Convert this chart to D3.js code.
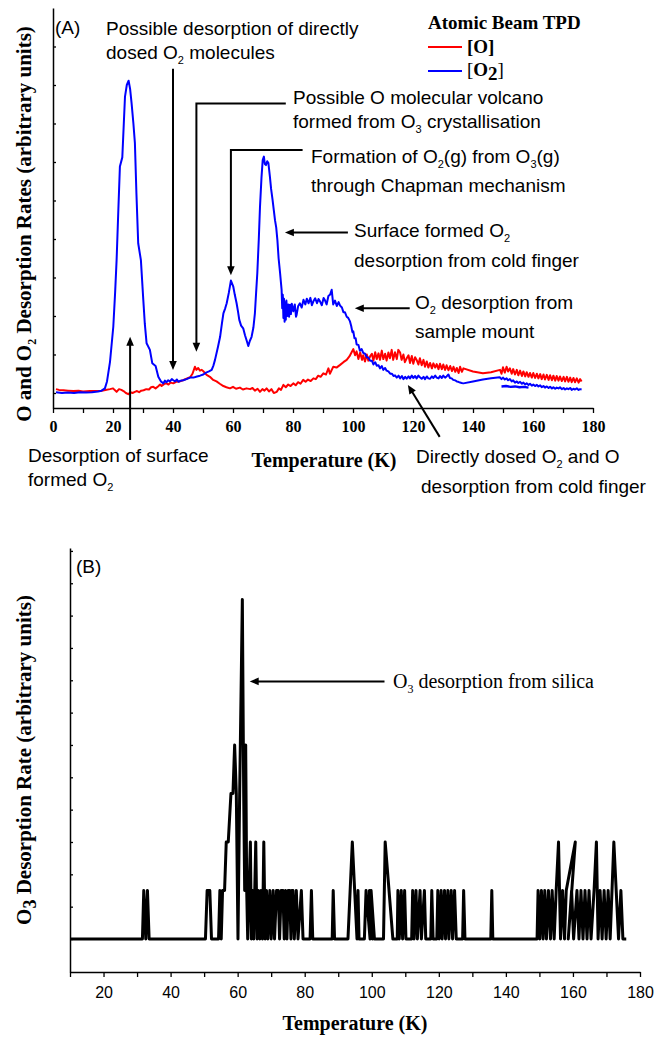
<!DOCTYPE html>
<html><head><meta charset="utf-8">
<script src="https://cdn.jsdelivr.net/npm/d3@7"></script>
<style>body{margin:0;background:#fff}svg{display:block}</style>
</head><body><svg id="c" width="666" height="1038"></svg>
<script>
// ---------- DATA ----------
// Panel A: [Temperature K, O2 desorption (arb.)]
const o2Scan = [[1,0.02],[3,0.0],[5,0.01],[7,0.0],[9,0.02],[11,0.01],[13,0.02],[15,0.04],[16.2,0.06],[17.3,0.12],[18,0.3],[19,0.81],[20.1,1.72],[20.7,2.6],[21.2,3.45],[21.8,4.8],[22.3,5.88],[23.1,6.12],[23.6,7.0],[24,7.7],[24.6,8.0],[25.2,8.11],[25.7,7.9],[26.2,7.52],[26.8,7.0],[27.3,6.49],[27.8,5.2],[28.4,3.89],[29.3,3.45],[30.1,2.42],[30.6,1.8],[31.2,1.29],[32.3,1.12],[33.1,0.77],[34.2,0.70],[35.1,0.42],[36,0.30],[36.8,0.25],[37.3,0.32],[37.8,0.28],[38.4,0.33],[39,0.30],[39.6,0.36],[40.1,0.33],[40.7,0.30],[41.3,0.35],[41.8,0.29],[42.5,0.32],[43.4,0.33],[44.5,0.36],[45.7,0.40],[46.8,0.40],[48,0.43],[49,0.45],[50.1,0.48],[51,0.53],[52,0.56],[52.9,0.6],[53.5,0.72],[54,0.86],[55,1.2],[55.7,1.46],[56.3,1.8],[56.8,2.07],[57.4,2.2],[57.9,2.33],[58.6,2.6],[59.3,2.92],[60.1,2.76],[60.6,2.55],[61.2,2.33],[61.7,2.1],[62.1,1.9],[62.7,1.75],[63.4,1.68],[64,1.5],[64.6,1.35],[65.1,1.22],[65.6,1.35],[66.2,1.46],[66.8,1.7],[67.3,2.07],[67.7,2.6],[68.1,3.11],[68.6,4.0],[69,4.84],[69.5,5.6],[69.9,6.05],[70.3,6.14],[70.6,5.95],[71,5.92],[71.4,6.02],[71.8,5.97],[72.3,5.62],[72.7,5.3],[73.2,5.01],[73.6,4.75],[74,4.49],[74.4,4.3],[74.8,3.97],[75.2,3.5],[75.7,3.11],[76.2,2.68],[76.4,2.2],[76.6,2.55],[76.8,1.95],[77.0,2.45],[77.2,1.85],[77.4,2.35],[77.6,1.9],[77.8,2.4],[78.1,2.0],[78.4,2.3],[78.7,1.98],[79,2.29],[79.3,2.05],[79.6,2.32],[80.1,2.12],[80.6,2.3],[81.0,1.98],[81.2,2.03],[81.7,2.25],[82.3,2.33],[82.9,2.22],[83.5,2.42],[84.1,2.3],[84.6,2.45],[85.2,2.33],[85.8,2.47],[86.3,2.28],[86.8,2.38],[87.4,2.46],[88,2.33],[88.5,2.44],[89,2.38],[89.6,2.28],[90.2,2.47],[90.7,2.4],[91.2,2.3],[91.8,2.52],[92.4,2.56],[92.9,2.68],[93.4,2.3],[94,2.4],[94.6,2.26],[95.2,2.36],[95.7,2.27],[96.3,2.22],[96.8,2.1],[97.3,2.1],[97.9,1.98],[98.4,1.95],[99,1.86],[99.4,1.74],[99.8,1.58],[100.1,1.6],[100.5,1.42],[100.9,1.42],[101.2,1.26],[101.8,1.25],[102.3,1.1],[102.9,1.14],[103.4,1.04],[104,1.02],[104.6,0.93],[105.1,0.92],[105.7,0.84],[106.3,0.84],[106.8,0.74],[107.4,0.8],[107.9,0.71],[108.5,0.72],[109,0.64],[109.6,0.7],[110.1,0.6],[110.7,0.65],[111.2,0.58],[111.8,0.56],[112.4,0.5],[113,0.5],[113.5,0.44],[114,0.46],[114.6,0.4],[115.2,0.45],[115.7,0.38],[116.3,0.44],[116.8,0.36],[117.4,0.42],[117.9,0.37],[118.5,0.43],[119,0.38],[119.6,0.45],[120.1,0.39],[120.7,0.44],[121.2,0.38],[121.8,0.45],[122.3,0.41],[122.9,0.37],[123.5,0.42],[124,0.36],[124.6,0.43],[125.1,0.38],[125.7,0.37],[126.3,0.43],[126.8,0.39],[127.4,0.45],[127.9,0.4],[128.5,0.38],[129,0.44],[129.6,0.39],[130.1,0.45],[130.7,0.4],[131.2,0.43],[131.8,0.48],[132.3,0.39],[132.9,0.38],[133.4,0.34],[134,0.33],[134.6,0.30],[135.1,0.29],[135.7,0.27],[136.2,0.26],[136.8,0.25],[140,0.30],[143.3,0.35],[146,0.38],[148.9,0.41],[149.5,0.36],[150,0.40],[150.6,0.35],[151.2,0.38],[151.7,0.33],[152.3,0.36],[152.9,0.30],[153.4,0.33],[154,0.27],[154.6,0.30],[155.1,0.26],[155.7,0.29],[156.3,0.24],[156.8,0.27],[157.4,0.22],[157.9,0.25],[158.5,0.21],[159,0.24],[159.6,0.19],[160.1,0.22],[160.7,0.18],[161.3,0.21],[161.8,0.17],[162.4,0.20],[162.9,0.15],[163.5,0.18],[164,0.14],[164.6,0.17],[165.2,0.13],[165.7,0.16],[166.3,0.12],[166.8,0.15],[167.4,0.11],[167.9,0.14],[168.5,0.12],[169,0.15],[169.6,0.10],[170.2,0.13],[170.7,0.09],[171.3,0.12],[171.8,0.10],[172.4,0.13],[172.9,0.08],[173.5,0.11],[174,0.09],[174.6,0.12],[175.2,0.08],[175.7,0.1],[176.2,0.09]];
const o2ScanRepeat = [[149.5,0.17],[151,0.18],[152.5,0.16],[154,0.17],[155.5,0.15],[157,0.16],[158.5,0.14]];
// Panel A: [Temperature K, O desorption (arb.)]
const oScan = [[1,0.1],[2,0.08],[3.5,0.07],[5,0.06],[6.8,0.05],[8.5,0.06],[10,0.04],[12.3,0.05],[14,0.05],[16.2,0.06],[17.5,0.08],[19,0.1],[20,0.12],[21.2,0.03],[22,0.1],[22.8,0.08],[23.5,0.05],[24.3,0.0],[25.1,-0.03],[25.8,0.02],[26.5,0.0],[27.3,0.03],[28,0.05],[28.7,0.02],[29.4,0.06],[30.2,0.07],[31.1,0.1],[32,0.09],[32.7,0.15],[33.4,0.16],[34.2,0.12],[35,0.17],[35.7,0.22],[36.2,0.18],[37,0.23],[37.8,0.25],[38.5,0.22],[39.2,0.27],[40.1,0.25],[41,0.29],[42.3,0.3],[43.3,0.33],[44.5,0.37],[45.7,0.41],[46.5,0.5],[47.3,0.68],[47.8,0.6],[48.4,0.65],[49,0.58],[49.6,0.6],[50.3,0.55],[51.2,0.47],[52.3,0.42],[53.4,0.34],[54.5,0.3],[55.6,0.24],[56.8,0.18],[57.8,0.15],[59,0.12],[60,0.16],[61,0.11],[62.3,0.14],[63.3,0.09],[64.5,0.12],[65.7,0.1],[66.5,0.13],[67.3,0.06],[68.2,0.11],[69,0.03],[69.8,0.1],[70.5,0.06],[71.2,0.12],[72,0.04],[72.8,0.1],[73.6,0.0],[74.6,0.03],[75.3,0.12],[76,0.08],[76.8,0.21],[77.6,0.15],[78.4,0.22],[79.2,0.18],[80.1,0.25],[80.9,0.2],[81.7,0.28],[82.5,0.24],[83.4,0.34],[84.2,0.29],[85,0.35],[85.9,0.31],[86.8,0.38],[87.6,0.36],[88.4,0.45],[89.2,0.42],[90.1,0.51],[91,0.48],[91.8,0.64],[92.3,0.5],[93.4,0.68],[94.5,0.66],[95.7,0.73],[96.8,0.8],[97.9,0.86],[98.8,0.95],[99.5,1.05],[100.1,1.14],[100.7,0.98],[101.2,1.08],[101.8,0.88],[102.4,1.05],[103,0.86],[103.4,0.98],[104,0.82],[104.6,1.0],[105.1,0.84],[105.7,0.95],[106.3,1.02],[106.8,0.84],[107.4,1.06],[107.9,0.88],[108.5,1.03],[109,0.86],[109.6,1.1],[110.1,0.88],[110.7,1.02],[111.2,0.84],[111.8,1.05],[112.3,0.9],[112.9,1.12],[113.4,0.86],[114,1.06],[114.6,0.88],[115.1,1.12],[115.7,1.05],[116.2,0.86],[116.8,1.0],[117.3,0.8],[117.9,0.9],[118.5,0.98],[119,0.78],[119.6,0.96],[120.1,0.76],[120.7,0.93],[121.2,0.86],[121.8,0.74],[122.3,0.9],[122.9,0.72],[123.5,0.86],[124,0.68],[124.6,0.82],[125.1,0.66],[125.7,0.78],[126.3,0.64],[126.8,0.77],[127.4,0.66],[127.9,0.75],[128.5,0.62],[129,0.76],[129.6,0.62],[130.1,0.74],[130.7,0.6],[131.2,0.72],[131.8,0.59],[132.4,0.7],[133,0.57],[133.5,0.68],[134.1,0.55],[134.6,0.65],[135.2,0.52],[135.7,0.68],[136.3,0.55],[136.8,0.64],[140,0.56],[143.3,0.51],[146,0.54],[149,0.6],[149.5,0.5],[150,0.67],[150.6,0.53],[151.2,0.68],[151.7,0.56],[152.3,0.64],[152.9,0.5],[153.4,0.62],[154,0.48],[154.6,0.6],[155.1,0.46],[155.7,0.58],[156.3,0.44],[156.8,0.56],[157.4,0.43],[157.9,0.54],[158.5,0.42],[159,0.52],[159.6,0.4],[160.1,0.52],[160.7,0.39],[161.3,0.5],[161.8,0.38],[162.4,0.49],[162.9,0.36],[163.5,0.48],[164,0.35],[164.6,0.47],[165.2,0.34],[165.7,0.46],[166.3,0.33],[166.8,0.45],[167.4,0.32],[167.9,0.44],[168.5,0.32],[169,0.43],[169.6,0.31],[170.2,0.42],[170.7,0.3],[171.3,0.42],[171.8,0.29],[172.4,0.4],[172.9,0.28],[173.5,0.39],[174,0.28],[174.6,0.38],[175.2,0.27],[175.7,0.36],[176.2,0.3]];
// Panel B: [Temperature K, O3 counts]
const o3Scan = [[10,0],[31.6,0],[32.0,1],[32.6,0],[33.1,1],[33.6,0],[50.4,0],[50.9,1],[51.7,1],[52.2,0],[54.3,0],[54.7,1],[55.1,0],[55.5,1],[56.1,1],[56.6,2],[57.2,2],[58.0,3],[58.6,3],[59.1,4],[59.6,3],[60.1,0],[60.6,3],[61.0,5],[61.4,7],[61.8,3],[62.1,1],[62.4,4],[62.7,1],[63.0,0],[63.4,1],[63.8,2],[64.1,0],[64.5,1],[64.8,0],[65.4,2],[65.8,0],[66.2,1],[66.6,0],[67.0,1],[67.4,0],[67.8,2],[68.2,0],[68.6,1],[69.0,0],[69.6,1],[70.0,0],[70.6,1],[71.0,0],[71.6,1],[72.1,1],[72.5,0],[73.0,1],[73.5,1],[73.9,0],[74.3,1],[74.7,0],[75.1,1],[75.5,1],[75.9,0],[76.2,1],[76.5,1],[76.9,0],[77.5,1],[78.0,0],[79.0,1],[79.5,0],[81.6,0],[82.0,1],[82.4,0],[88.2,0],[88.5,1],[88.9,0],[92.9,0],[94.2,2],[95.6,0],[95.9,1],[96.2,0],[97.8,0],[98.3,1],[99.5,0],[99.3,1],[100.2,0],[99.8,1],[100.8,0],[103.5,0],[104.0,2],[106.3,0],[107.6,0],[107.8,1],[108.2,0],[108.8,1],[109.2,0],[109.8,1],[110.2,0],[111.9,0],[112.2,1],[112.6,0],[113.2,1],[113.6,0],[114.4,1],[114.8,0],[115.7,1],[116.1,0],[117.6,0],[117.9,1],[118.3,0],[119.4,0],[119.7,1],[120.1,0],[120.7,1],[121.0,0],[121.7,1],[122.0,0],[122.7,1],[123.0,0],[123.7,1],[124.1,0],[124.7,1],[125.2,0],[127.1,0],[127.4,1],[127.8,0],[135.5,0],[135.8,1],[136.1,0],[149.3,0],[149.6,1],[150.1,0],[150.6,1],[151.1,0],[151.6,1],[152.1,0],[152.7,1],[153.3,0],[153.8,1],[154.4,0],[155.0,1],[155.7,2],[156.3,0],[156.9,1],[157.5,0],[158.0,1],[160.7,2],[158.6,0],[159.6,1],[160.2,0],[161.2,1],[161.8,0],[162.4,1],[163.0,0],[163.6,1],[164.2,0],[164.8,1],[165.4,0],[166.3,1],[167.0,2],[167.5,0],[168.1,1],[168.7,0],[169.3,1],[169.9,0],[170.5,1],[171.1,0],[172.2,2],[173.6,0],[174.3,1],[174.9,0],[175.9,0]];

const xTicksA = [0,10,20,30,40,50,60,70,80,90,100,110,120,130,140,150,160,170,180];
const xTicksB = [10,20,30,40,50,60,70,80,90,100,110,120,130,140,150,160,170,180];
const labelEveryA = 20, labelEveryB = 20;

// ---------- DRAW ----------
const svg = d3.select("#c");
const SANS = "'Liberation Sans', Arial, sans-serif";
const SERIF = "'Liberation Serif', 'Times New Roman', serif";

const xA = d3.scaleLinear().domain([0,180]).range([53,593]);
const yA = d3.scaleLinear().domain([-0.39,10]).range([408,8]);
const xB = d3.scaleLinear().domain([10,180]).range([70,640]);
const yB = d3.scaleLinear().domain([-0.68,8.06]).range([972,548]);

function styleAxis(g, font, size, weight){
  g.select(".domain").attr("stroke","#000").attr("stroke-width",1.5);
  g.selectAll(".tick line").attr("stroke","#000").attr("stroke-width",1.3);
  g.selectAll(".tick text").attr("fill","#000").style("font-family",font).style("font-size",size+"px").style("font-weight",weight);
}

// Panel A axes
const gxA = svg.append("g").attr("transform","translate(0,408)")
  .call(d3.axisBottom(xA).tickValues(xTicksA).tickSize(5).tickSizeOuter(0).tickPadding(8)
    .tickFormat(d => d % labelEveryA === 0 ? d : ""));
styleAxis(gxA, SERIF, 16, "bold");
const gyA = svg.append("g").attr("transform","translate(53,0)")
  .call(d3.axisLeft(yA).tickValues(d3.range(0,10,1)).tickSize(-3).tickSizeOuter(0).tickFormat(""));
styleAxis(gyA, SERIF, 16, "bold");

// Panel B axes
const gxB = svg.append("g").attr("transform","translate(0,972)")
  .call(d3.axisBottom(xB).tickValues(xTicksB).tickSize(5).tickSizeOuter(0).tickPadding(10)
    .tickFormat(d => d % labelEveryB === 0 ? d : ""));
styleAxis(gxB, SANS, 16, "normal");
const gyB = svg.append("g").attr("transform","translate(70,0)")
  .call(d3.axisLeft(yB).tickValues(d3.range(0,13).map(k => k*2/3)).tickSize(-3).tickSizeOuter(0).tickFormat(""));
styleAxis(gyB, SANS, 16, "normal");

// Lines
const lineA = d3.line().x(d => xA(d[0])).y(d => yA(d[1]));
const lineB = d3.line().x(d => xB(d[0])).y(d => yB(d[1]));
svg.append("path").datum(oScan).attr("d",lineA).attr("fill","none").attr("stroke","#ff0000").attr("stroke-width",2).attr("stroke-linejoin","round");
svg.append("path").datum(o2Scan).attr("d",lineA).attr("fill","none").attr("stroke","#0000ff").attr("stroke-width",2).attr("stroke-linejoin","round");
svg.append("path").datum(o2ScanRepeat).attr("d",lineA).attr("fill","none").attr("stroke","#0000ff").attr("stroke-width",2.4).attr("stroke-linejoin","round");
svg.append("path").datum(o3Scan).attr("d",lineB).attr("fill","none").attr("stroke","#000").attr("stroke-width",3).attr("stroke-linejoin","round");

// Text helper: segments [text, kind, weight]
function rich(x, y, segs, opts){
  const t = svg.append("text").attr("x",x).attr("y",y)
    .style("font-family",opts.font).style("font-size",opts.size+"px")
    .style("font-weight",opts.weight||"normal").attr("fill","#000");
  if (opts.anchor) t.attr("text-anchor",opts.anchor);
  if (opts.rotate) t.attr("transform",`rotate(-90,${x},${y})`);
  let shifted = false;
  segs.forEach(s => {
    const sp = t.append("tspan").text(s[0]);
    const sub = s[1] === "sub";
    if (sub && !shifted){ sp.attr("dy", opts.subDy || 5).style("font-size",(opts.subSize||11)+"px"); shifted = true; }
    else if (sub) { sp.style("font-size",(opts.subSize||11)+"px"); }
    else if (shifted){ sp.attr("dy", -(opts.subDy || 5)); shifted = false; }
    if (s[2]) sp.style("font-weight", s[2]);
  });
  return t;
}
const ann = {font:SANS, size:19, subSize:11, subDy:5};

rich(55,34,[["(A)"]],ann);
rich(106,35,[["Possible desorption of directly"]],ann);
rich(106,59,[["dosed O"],["2","sub"],[" molecules"]],ann);
rich(293,104,[["Possible O molecular volcano"]],ann);
rich(293,128,[["formed from O"],["3","sub"],[" crystallisation"]],ann);
rich(311,163,[["Formation of O"],["2","sub"],["(g) from O"],["3","sub"],["(g)"]],ann);
rich(311,192,[["through Chapman mechanism"]],ann);
rich(354,237,[["Surface formed O"],["2","sub"]],ann);
rich(354,267,[["desorption from cold finger"]],ann);
rich(415,309,[["O"],["2","sub"],[" desorption from"]],ann);
rich(415,338,[["sample mount"]],ann);
rich(416,463,[["Directly dosed O"],["2","sub"],[" and O"]],ann);
rich(421,493,[["desorption from cold finger"]],ann);
rich(28,462,[["Desorption of surface"]],ann);
rich(28,486,[["formed O"],["2","sub"]],ann);
rich(76,573,[["(B)"]],ann);

rich(393,688,[["O"],["3","sub"],[" desorption from silica"]],{font:SERIF,size:20,subSize:12,subDy:5});

// Axis titles
rich(324,467,[["Temperature (K)"]],{font:SERIF,size:20,weight:"bold",anchor:"middle"});
rich(355,1030,[["Temperature (K)"]],{font:SERIF,size:20,weight:"bold",anchor:"middle"});
rich(31,224,[["O and O"],["2","sub"],[" Desorption Rates (arbitrary units)"]],{font:SERIF,size:21,weight:"bold",anchor:"middle",rotate:true,subSize:12,subDy:5});
rich(31,760,[["O"],["3","sub"],[" Desorption Rate (arbitrary units)"]],{font:SERIF,size:21,weight:"bold",anchor:"middle",rotate:true,subSize:18,subDy:5});

// Legend
rich(428,29,[["Atomic Beam TPD"]],{font:SERIF,size:19,weight:"bold"});
svg.append("line").attr("x1",428).attr("x2",462).attr("y1",47).attr("y2",47).attr("stroke","#ff0000").attr("stroke-width",2);
svg.append("line").attr("x1",428).attr("x2",462).attr("y1",71).attr("y2",71).attr("stroke","#0000ff").attr("stroke-width",2);
rich(467,53,[["[O]"]],{font:SERIF,size:19,weight:"bold"});
rich(467,76,[["[","","normal"],["O","","bold"],["2","sub","bold"],["]","","normal"]],{font:SERIF,size:19,subSize:19,subDy:4});

// Arrows (positions in data units of each panel)
function arrow(pts, xs, ys){
  const p = pts.map(d => [xs(d[0]), ys(d[1])]);
  const n = p.length, tip = p[n-1], prev = p[n-2];
  const dx = tip[0]-prev[0], dy = tip[1]-prev[1], L = Math.hypot(dx,dy);
  const ux = dx/L, uy = dy/L, hl = 9, hw = 3.8;
  const base = [tip[0]-ux*hl, tip[1]-uy*hl];
  const lp = p.slice(0,n-1).concat([[tip[0]-ux*(hl-1), tip[1]-uy*(hl-1)]]);
  svg.append("path").attr("d", d3.line()(lp)).attr("fill","none").attr("stroke","#000").attr("stroke-width",2);
  svg.append("path").attr("d", d3.line()([tip,[base[0]-uy*hw, base[1]+ux*hw],[base[0]+uy*hw, base[1]-ux*hw]])+"Z").attr("fill","#000");
}
arrow([[40,8.42],[40,0.6]], xA, yA);
arrow([[77.6,7.52],[47.8,7.52],[47.8,1.07]], xA, yA);
arrow([[83.2,6.31],[59.3,6.31],[59.3,3.06]], xA, yA);
arrow([[98.3,4.17],[77.3,4.17]], xA, yA);
arrow([[118.9,2.2],[100.6,2.2]], xA, yA);
arrow([[128.9,-1.14],[118.3,0.21]], xA, yA);
arrow([[25.7,-1.22],[25.7,1.46]], xA, yA);
arrow([[103.8,5.31],[63.6,5.31]], xB, yB);
</script>
</body></html>
